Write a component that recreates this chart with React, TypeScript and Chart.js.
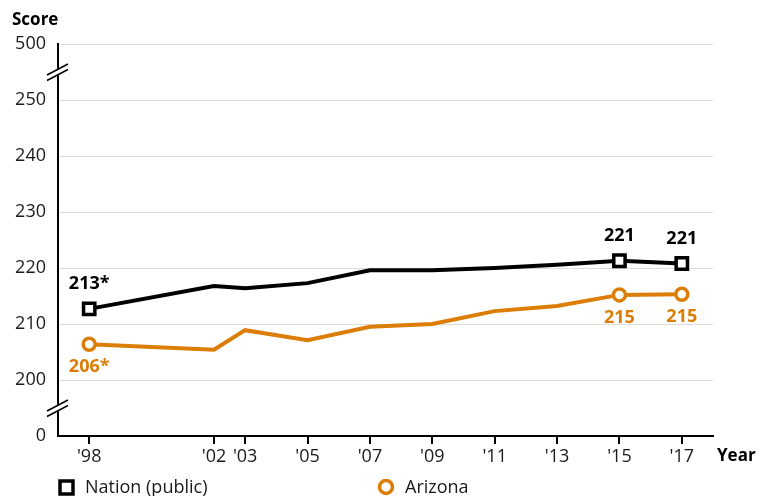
import React, { useEffect, useRef } from "react";
import { Chart, registerables } from "chart.js";

Chart.register(...registerables);

const years = [1998, 2002, 2003, 2005, 2007, 2009, 2011, 2013, 2015, 2017];
const nationScores = [212.7, 216.8, 216.4, 217.3, 219.6, 219.6, 220.0, 220.6, 221.3, 220.8];
const arizonaScores = [206.4, 205.4, 208.9, 207.1, 209.5, 210.0, 212.3, 213.2, 215.2, 215.3];
const nationLabels = ["213*", "", "", "", "", "", "", "", "221", "221"];
const arizonaLabels = ["206*", "", "", "", "", "", "", "", "215", "215"];
const yTickLabels = ["0", "200", "210", "220", "230", "240", "250", "500"];
const seriesNames = ["Nation (public)", "Arizona"];

const NATION_COLOR = "#000000";
const ARIZONA_COLOR = "#DB7D06";
const TEXT_COLOR = "#1a1a1a";
const FONT = "'Open Sans', 'Noto Sans', sans-serif";

// map a score onto the broken axis (0 | 200..250 | 500)
const toAxis = (s: number) => 1 + (s - 200) / 10;

const markerIdx = [0, 8, 9];

const overlayPlugin = {
  id: "overlay",
  afterDraw(chart: any) {
    const ctx = chart.ctx;
    const ys = chart.scales.y;
    const xs = chart.scales.x;
    const ax = chart.chartArea.left;
    ctx.save();
    // axis breaks
    const drawBreak = (yc: number) => {
      ctx.fillStyle = "#fff";
      ctx.beginPath();
      ctx.moveTo(ax - 10, yc + 3);
      ctx.lineTo(ax + 10, yc - 8);
      ctx.lineTo(ax + 10, yc - 3);
      ctx.lineTo(ax - 10, yc + 8);
      ctx.closePath();
      ctx.fill();
      ctx.strokeStyle = "#000";
      ctx.lineWidth = 1.5;
      ctx.beginPath();
      ctx.moveTo(ax - 11, yc + 3);
      ctx.lineTo(ax + 10, yc - 8);
      ctx.moveTo(ax - 11, yc + 8.5);
      ctx.lineTo(ax + 10, yc - 2.5);
      ctx.stroke();
    };
    drawBreak((ys.getPixelForValue(7) + ys.getPixelForValue(6)) / 2);
    drawBreak((ys.getPixelForValue(1) + ys.getPixelForValue(0)) / 2);

    // data labels
    ctx.font = `bold 18px ${FONT}`;
    ctx.textAlign = "center";
    ctx.textBaseline = "middle";
    years.forEach((yr, i) => {
      const px = xs.getPixelForValue(yr);
      if (nationLabels[i]) {
        ctx.fillStyle = NATION_COLOR;
        const py = ys.getPixelForValue(toAxis(nationScores[i]));
        ctx.fillText(nationLabels[i], px, py - 25);
      }
      if (arizonaLabels[i]) {
        ctx.fillStyle = ARIZONA_COLOR;
        const py = ys.getPixelForValue(toAxis(arizonaScores[i]));
        ctx.fillText(arizonaLabels[i], px, py + 23);
      }
    });

    // titles
    ctx.fillStyle = "#000";
    ctx.font = `bold 17px ${FONT}`;
    ctx.textAlign = "left";
    ctx.fillText("Score", 12, 20);
    ctx.fillText("Year", 717, 456);

    // legend
    ctx.lineWidth = 3.5;
    ctx.strokeStyle = NATION_COLOR;
    ctx.fillStyle = "#fff";
    ctx.fillRect(60, 481, 13, 13);
    ctx.strokeRect(60, 481, 13, 13);
    ctx.strokeStyle = ARIZONA_COLOR;
    ctx.beginPath();
    ctx.arc(386, 487, 6.5, 0, Math.PI * 2);
    ctx.fill();
    ctx.stroke();
    ctx.fillStyle = TEXT_COLOR;
    ctx.font = `18px ${FONT}`;
    ctx.fillText(seriesNames[0], 85, 488);
    ctx.fillText(seriesNames[1], 405, 488);
    ctx.restore();
  },
};

export default function App() {
  const ref = useRef<HTMLCanvasElement>(null);
  useEffect(() => {
    if (!ref.current) return;
    const radii = (r: number) => years.map((_, i) => (markerIdx.includes(i) ? r : 0));
    const chart = new Chart(ref.current, {
      type: "line",
      data: {
        datasets: [
          {
            label: seriesNames[0],
            data: years.map((y, i) => ({ x: y, y: toAxis(nationScores[i]) })),
            borderColor: NATION_COLOR,
            borderWidth: 4,
            pointStyle: "rect",
            pointRadius: radii(8),
            pointBorderWidth: 3.5,
            pointBackgroundColor: "#fff",
            pointBorderColor: NATION_COLOR,
            tension: 0,
          },
          {
            label: seriesNames[1],
            data: years.map((y, i) => ({ x: y, y: toAxis(arizonaScores[i]) })),
            borderColor: ARIZONA_COLOR,
            borderWidth: 4,
            pointStyle: "circle",
            pointRadius: radii(6),
            pointBorderWidth: 3.5,
            pointBackgroundColor: "#fff",
            pointBorderColor: ARIZONA_COLOR,
            tension: 0,
          },
        ],
      },
      options: {
        animation: false,
        responsive: false,
        layout: { padding: { left: 0, right: 46, top: 44, bottom: 0 } },
        plugins: { legend: { display: false }, tooltip: { enabled: false } },
        scales: {
          x: {
            type: "linear",
            min: 1997,
            max: 2018,
            afterBuildTicks: (s: any) => {
              s.ticks = years.map((v) => ({ value: v }));
            },
            afterFit: (s: any) => {
              s.height = 60;
            },
            ticks: {
              autoSkip: false,
              maxRotation: 0,
              padding: 2,
              color: TEXT_COLOR,
              font: { family: FONT, size: 18 },
              callback: (v: any) => "'" + String(v).slice(2),
            },
            grid: { drawOnChartArea: false, drawTicks: true, tickLength: 8, color: "#000", lineWidth: 2 },
            border: { display: true, color: "#000", width: 2 },
          },
          y: {
            type: "linear",
            min: 0,
            max: 7,
            afterBuildTicks: (s: any) => {
              s.ticks = yTickLabels.map((_, i) => ({ value: i }));
            },
            afterFit: (s: any) => {
              s.width = 58;
            },
            ticks: {
              padding: 12,
              color: TEXT_COLOR,
              font: { family: FONT, size: 18 },
              callback: (v: any) => yTickLabels[v],
            },
            grid: {
              drawTicks: false,
              color: (c: any) => (c.tick && c.tick.value === 0 ? "rgba(0,0,0,0)" : "#dcdcdc"),
              lineWidth: 1,
            },
            border: { display: true, color: "#000", width: 2 },
          },
        },
      },
      plugins: [overlayPlugin],
    } as any);
    return () => chart.destroy();
  }, []);
  return (
    <div style={{ position: "absolute", left: 0, top: 0, width: 759, height: 496 }}>
      <canvas ref={ref} width={759} height={496} style={{ width: 759, height: 496 }} />
    </div>
  );
}
